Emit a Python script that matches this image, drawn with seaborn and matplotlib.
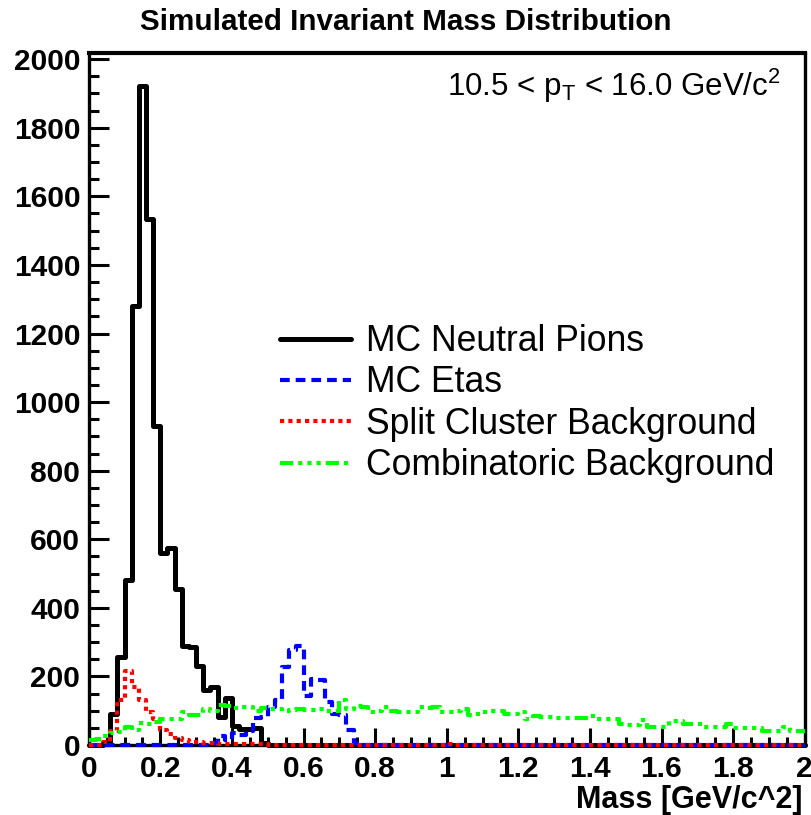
import numpy as np
import pandas as pd
import matplotlib
matplotlib.use("Agg")
import matplotlib.pyplot as plt
from matplotlib.lines import Line2D
from matplotlib.ticker import MultipleLocator
import seaborn as sns

# ---------------- data ----------------
bin_width = 0.02
bin_range = (0.0, 2.0)

pions = [0, 0, 5, 90, 258, 482, 1279, 1922, 1535, 930,
         560, 575, 455, 290, 285, 230, 160, 170, 82, 136,
         55, 47, 47, 50, 5, 0, 0, 0, 0, 0,
         0, 0, 0, 0, 0, 0, 0, 0, 0, 0,
         0, 0, 0, 0, 0, 0, 0, 0, 0, 0,
         0, 0, 0, 0, 0, 0, 0, 0, 0, 0,
         0, 0, 0, 0, 0, 0, 0, 0, 0, 0,
         0, 0, 0, 0, 0, 0, 0, 0, 0, 0,
         0, 0, 0, 0, 0, 0, 0, 0, 0, 0,
         0, 0, 0, 0, 0, 0, 0, 0, 0, 0]

etas = [0, 0, 0, 0, 0, 0, 0, 0, 0, 0,
        0, 0, 0, 0, 0, 0, 0, 5, 25, 15,
        35, 30, 40, 80, 82, 110, 131, 228, 278, 290,
        143, 192, 190, 125, 90, 87, 45, 5, 0, 0,
        0, 0, 0, 0, 0, 0, 0, 0, 0, 0,
        0, 0, 0, 0, 0, 0, 0, 0, 0, 0,
        0, 0, 0, 0, 0, 0, 0, 0, 0, 0,
        0, 0, 0, 0, 0, 0, 0, 0, 0, 0,
        0, 0, 0, 0, 0, 0, 0, 0, 0, 0,
        0, 0, 0, 0, 0, 0, 0, 0, 0, 0]

split_cluster = [0, 0, 10, 40, 130, 215, 170, 130, 97, 75,
                 44, 32, 20, 14, 10, 8, 6, 5, 4, 3,
                 3, 2, 2, 2, 2, 1, 1, 1, 0, 0,
                 0, 0, 0, 0, 0, 0, 0, 0, 0, 0,
                 0, 0, 0, 0, 0, 0, 0, 0, 0, 0,
                 4, 0, 0, 0, 0, 0, 0, 0, 0, 0,
                 0, 0, 0, 0, 0, 0, 0, 0, 0, 0,
                 0, 0, 0, 0, 0, 0, 0, 0, 0, 0,
                 0, 0, 0, 0, 0, 0, 0, 0, 0, 0,
                 0, 0, 0, 0, 0, 0, 0, 0, 0, 0]

combinatoric = [15, 18, 25, 35, 38, 52, 45, 65, 60, 68,
                75, 76, 75, 95, 88, 87, 105, 100, 117, 115,
                107, 110, 110, 100, 108, 105, 105, 100, 102, 104,
                103, 103, 104, 98, 98, 130, 105, 114, 110, 97,
                99, 110, 100, 96, 95, 95, 110, 108, 110, 97,
                97, 100, 105, 88, 90, 96, 98, 98, 90, 90,
                95, 75, 84, 82, 82, 78, 80, 80, 80, 78,
                85, 77, 77, 75, 61, 57, 57, 74, 52, 52,
                52, 70, 70, 60, 60, 60, 52, 52, 52, 60,
                50, 50, 50, 50, 41, 41, 41, 53, 40, 42]

series_labels = ["MC Neutral Pions", "MC Etas",
                 "Split Cluster Background", "Combinatoric Background"]
x_ticks = [0, 0.2, 0.4, 0.6, 0.8, 1, 1.2, 1.4, 1.6, 1.8, 2]
x_tick_labels = ["0", "0.2", "0.4", "0.6", "0.8", "1", "1.2", "1.4", "1.6", "1.8", "2"]
y_ticks = [0, 200, 400, 600, 800, 1000, 1200, 1400, 1600, 1800, 2000]

# ---------------- style ----------------
sns.set_style("ticks")
plt.rcParams["font.family"] = ["Liberation Sans", "DejaVu Sans"]
plt.rcParams["mathtext.fontset"] = "custom"
plt.rcParams["mathtext.rm"] = "Liberation Sans"
plt.rcParams["lines.scale_dashes"] = False
plt.rcParams["text.color"] = "black"
plt.rcParams["xtick.labelcolor"] = "black"
plt.rcParams["ytick.labelcolor"] = "black"
plt.rcParams["axes.labelcolor"] = "black"

n_bins = len(pions)
centers = bin_range[0] + bin_width * (np.arange(n_bins) + 0.5)
df = pd.DataFrame({
    "mass": np.tile(centers, 4),
    "count": np.concatenate([pions, etas, split_cluster, combinatoric]).astype(float),
    "series": np.repeat(series_labels, n_bins),
})

colors = ["#000000", "#0000ff", "#ff0000", "#00ff00"]
styles = ["-", (0, (7, 4.3)), (0, (3, 3)),
          (0, (9.5, 3.6, 3, 3.6, 3, 3.6, 3, 3.6))]
widths = [3.6, 3.0, 3.0, 3.0]

fig = plt.figure(figsize=(8.12, 8.15), dpi=100)
ax = fig.add_axes([88.7 / 812, 1 - 745 / 815, (804.7 - 88.7) / 812, (745 - 53) / 815])

for lab, col, ls, lw in zip(series_labels, colors, styles, widths):
    sub = df[df["series"] == lab]
    sns.histplot(data=sub, x="mass", weights="count", binwidth=bin_width,
                 binrange=bin_range, element="step", fill=False, color=col,
                 linestyle=ls, linewidth=lw, ax=ax, zorder=3, clip_on=False)

ax.set_xlim(0, 2)
ax.set_ylim(0, 2018)
ax.set_xticks(x_ticks)
ax.set_xticklabels(x_tick_labels)
ax.set_yticks(y_ticks)
ax.xaxis.set_minor_locator(MultipleLocator(0.05))
ax.yaxis.set_minor_locator(MultipleLocator(50))
ax.tick_params(axis="both", which="both", direction="in", top=False, right=False,
               width=2.2, color="black", labelcolor="black")
ax.tick_params(axis="y", which="major", length=14.5, pad=6, labelsize=21.5)
ax.tick_params(axis="y", which="minor", length=7)
ax.tick_params(axis="x", which="major", length=12.5, pad=7, labelsize=21.5)
ax.tick_params(axis="x", which="minor", length=5.5)
for lbl in ax.get_xticklabels() + ax.get_yticklabels():
    lbl.set_fontweight("bold")
for sp in ax.spines.values():
    sp.set_linewidth(2.4)
    sp.set_color("black")
ax.spines["top"].set_linewidth(3.0)
ax.set_ylabel("")
ax.set_xlabel("")

fig.text(0.5, 1 - 22 / 815, "Simulated Invariant Mass Distribution",
         ha="center", va="center", fontsize=21.3, fontweight="bold", color="black")
fig.text(803 / 812, 1 - 800 / 815, "Mass [GeV/c^2]", ha="right", va="center",
         fontsize=22, fontweight="bold", color="black")
fig.text(447 / 812, 1 - 86 / 815,
         r"10.5 < p$_{\mathregular{T}}$ < 16.0 GeV/c$^{\mathregular{2}}$",
         ha="left", va="center", fontsize=22.5, color="black")

handles = [Line2D([0], [0], color=c, linestyle=s, linewidth=w)
           for c, s, w in zip(colors, styles, widths)]
fig.legend(handles, series_labels, loc="upper left",
           bbox_to_anchor=(280 / 812, 1 - 324 / 815), frameon=False,
           fontsize=25.6, handlelength=2.0, handletextpad=0.42,
           labelspacing=0.18, borderpad=0, borderaxespad=0, labelcolor="black")

fig.savefig("out.png", dpi=100)
